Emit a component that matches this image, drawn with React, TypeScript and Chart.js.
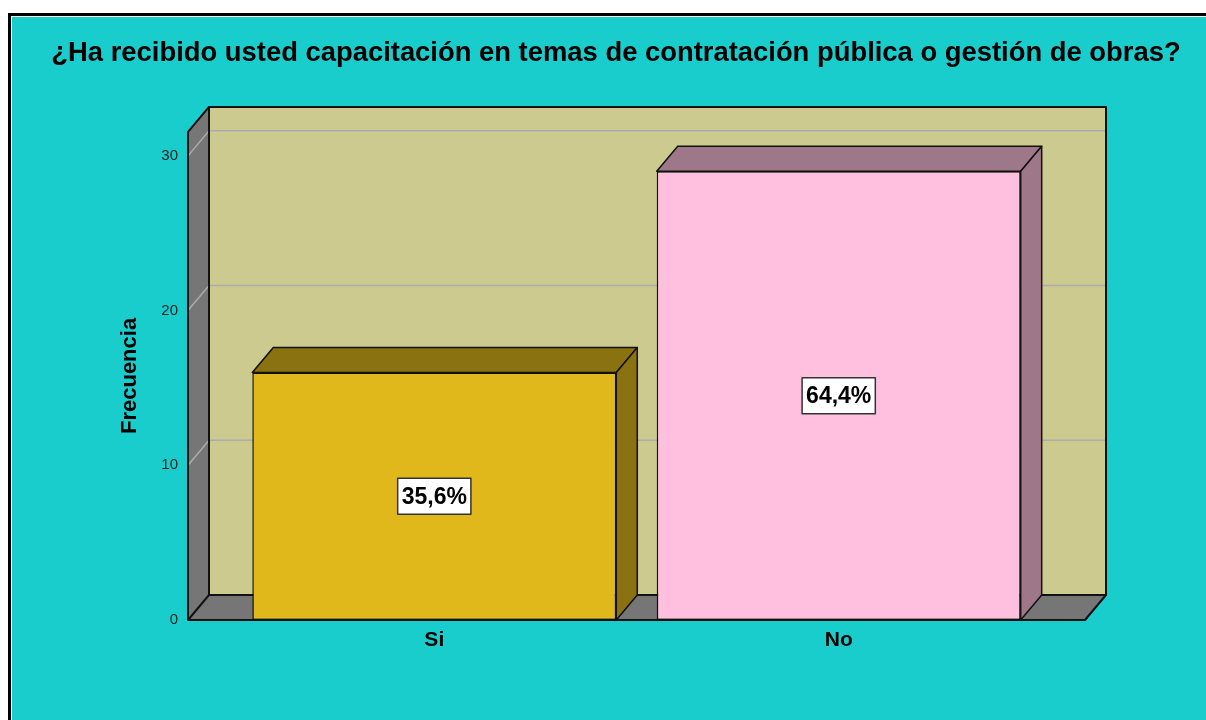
import React, { useEffect, useRef } from 'react';
import { Chart, registerables } from 'chart.js';

Chart.register(...registerables);

const categories: string[] = ['Si', 'No'];
const frequencies: number[] = [16, 29];
const yTickValues: number[] = [0, 10, 20, 30];
const yMax = 31.55;
const titleText = '¿Ha recibido usted capacitación en temas de contratación pública o gestión de obras?';
const yAxisTitle = 'Frecuencia';
const frontColors: string[] = ['#E0B81B', '#FFC0E0'];
const faceColors: string[] = ['#8A7211', '#9E7889'];

const FONT = "'Liberation Sans', Arial, Helvetica, sans-serif";
const DX = 21;
const DY = -25;

function poly(ctx: CanvasRenderingContext2D, pts: number[][], fill: string, stroke?: string, lw = 1.5) {
  ctx.beginPath();
  ctx.moveTo(pts[0][0], pts[0][1]);
  for (let i = 1; i < pts.length; i++) ctx.lineTo(pts[i][0], pts[i][1]);
  ctx.closePath();
  ctx.fillStyle = fill;
  ctx.fill();
  if (stroke) {
    ctx.strokeStyle = stroke;
    ctx.lineWidth = lw;
    ctx.lineJoin = 'round';
    ctx.stroke();
  }
}

const threeD = {
  id: 'threeD',
  beforeDatasetsDraw(chart: any) {
    const { ctx, chartArea } = chart;
    const { left, right, top, bottom } = chartArea;
    const yScale = chart.scales.y;
    ctx.save();
    // back wall
    ctx.fillStyle = '#CCCA8F';
    ctx.fillRect(left + DX, top + DY, right - left, bottom - top);
    // left wall and floor
    poly(ctx, [[left, top], [left + DX, top + DY], [left + DX, bottom + DY], [left, bottom]], '#767676');
    poly(ctx, [[left, bottom], [left + DX, bottom + DY], [right + DX, bottom + DY], [right, bottom]], '#767676');
    // grid lines
    ctx.strokeStyle = '#ABABAB';
    ctx.lineWidth = 1.5;
    yScale.ticks.forEach((t: any) => {
      const y = yScale.getPixelForValue(t.value);
      ctx.beginPath();
      ctx.moveTo(left, y);
      ctx.lineTo(left + DX, y + DY);
      if (t.value > 0) ctx.lineTo(right + DX, y + DY);
      ctx.stroke();
    });
    // outlines
    ctx.strokeStyle = '#111';
    ctx.lineWidth = 2;
    ctx.lineJoin = 'round';
    ctx.strokeRect(left + DX, top + DY, right - left, bottom - top);
    ctx.beginPath();
    ctx.moveTo(left + DX, top + DY);
    ctx.lineTo(left, top);
    ctx.lineTo(left, bottom);
    ctx.lineTo(right, bottom);
    ctx.lineTo(right + DX, bottom + DY);
    ctx.moveTo(left, bottom);
    ctx.lineTo(left + DX, bottom + DY);
    ctx.stroke();
    ctx.restore();
  },
  afterDatasetsDraw(chart: any) {
    const { ctx } = chart;
    const meta = chart.getDatasetMeta(0);
    const total = frequencies.reduce((a, b) => a + b, 0);
    ctx.save();
    meta.data.forEach((bar: any, i: number) => {
      const { x, y, base, width } = bar.getProps(['x', 'y', 'base', 'width'], true);
      const l = x - width / 2;
      const r = x + width / 2;
      poly(ctx, [[l, y], [l + DX, y + DY], [r + DX, y + DY], [r, y]], faceColors[i], '#111', 1.5);
      poly(ctx, [[r, y], [r + DX, y + DY], [r + DX, base + DY], [r, base]], faceColors[i], '#111', 1.5);
      // percentage label
      const pct = ((frequencies[i] / total) * 100).toFixed(1).replace('.', ',') + '%';
      ctx.font = `bold 23px ${FONT}`;
      const tw = ctx.measureText(pct).width;
      const bw = tw + 8;
      const bh = 36;
      const cy = (y + base) / 2;
      ctx.fillStyle = '#FFFFFF';
      ctx.fillRect(x - bw / 2, cy - bh / 2, bw, bh);
      ctx.strokeStyle = '#333';
      ctx.lineWidth = 1.5;
      ctx.strokeRect(x - bw / 2, cy - bh / 2, bw, bh);
      ctx.fillStyle = '#000';
      ctx.textAlign = 'center';
      ctx.textBaseline = 'middle';
      ctx.fillText(pct, x, cy + 1);
    });
    ctx.restore();
  },
};

export default function App() {
  const canvasRef = useRef<HTMLCanvasElement | null>(null);

  useEffect(() => {
    if (!canvasRef.current) return;
    const chart = new Chart(canvasRef.current, {
      type: 'bar',
      data: {
        datasets: [
          {
            data: frequencies.map((v, i) => ({ x: i, y: v })),
            backgroundColor: frontColors,
            borderColor: '#111',
            borderWidth: 1.5,
            borderSkipped: false,
            categoryPercentage: 1,
            barPercentage: 0.9,
          },
        ],
      },
      options: {
        responsive: false,
        animation: false,
        layout: { padding: { left: 14, right: 0, top: 0, bottom: 0 } },
        plugins: {
          legend: { display: false },
          tooltip: { enabled: false },
          title: {
            display: true,
            text: titleText,
            color: '#000',
            font: { family: FONT, size: 27.4, weight: 'bold' },
            padding: { top: 20, bottom: 62 },
          },
        },
        scales: {
          x: {
            type: 'linear',
            offset: false,
            min: -0.609,
            max: 1.609,
            afterBuildTicks: (s: any) => {
              s.ticks = categories.map((_, i) => ({ value: i }));
            },
            afterFit: (s: any) => {
              s.height = 101;
            },
            grid: { display: false, drawTicks: false, offset: false },
            border: { display: false },
            ticks: {
              autoSkip: false,
              maxRotation: 0,
              padding: 8,
              color: '#000',
              font: { family: FONT, size: 21, weight: 'bold' },
              callback: (v: any) => categories[v as number] ?? '',
            },
          },
          y: {
            type: 'linear',
            position: 'left',
            min: 0,
            max: yMax,
            afterBuildTicks: (s: any) => {
              s.ticks = yTickValues.map((v) => ({ value: v }));
            },
            afterFit: (s: any) => {
              s.width = 162;
            },
            grid: { display: false, drawTicks: false },
            border: { display: false },
            ticks: {
              padding: 10,
              color: '#222',
              font: { family: FONT, size: 15 },
            },
            title: {
              display: true,
              text: yAxisTitle,
              color: '#000',
              font: { family: FONT, size: 22, weight: 'bold' },
              padding: { top: 91, bottom: 0 },
            },
          },
          y2: {
            type: 'linear',
            position: 'right',
            afterFit: (s: any) => {
              s.width = 121;
            },
            grid: { display: false, drawTicks: false },
            border: { display: false },
            ticks: { display: false },
          },
        },
      },
      plugins: [threeD],
    } as any);
    return () => chart.destroy();
  }, []);

  return (
    <div
      style={{
        position: 'fixed',
        left: 8,
        top: 13,
        width: 1198,
        height: 707,
        boxSizing: 'border-box',
        borderLeft: '3px solid #000',
        borderTop: '3px solid #000',
        background: '#FFFFFF',
        paddingLeft: 1,
        paddingTop: 1,
        overflow: 'hidden',
      }}
    >
      <div style={{ width: 1194, height: 704, background: '#1ACDCD' }}>
        <canvas ref={canvasRef} width={1194} height={704} style={{ display: 'block' }} />
      </div>
    </div>
  );
}
